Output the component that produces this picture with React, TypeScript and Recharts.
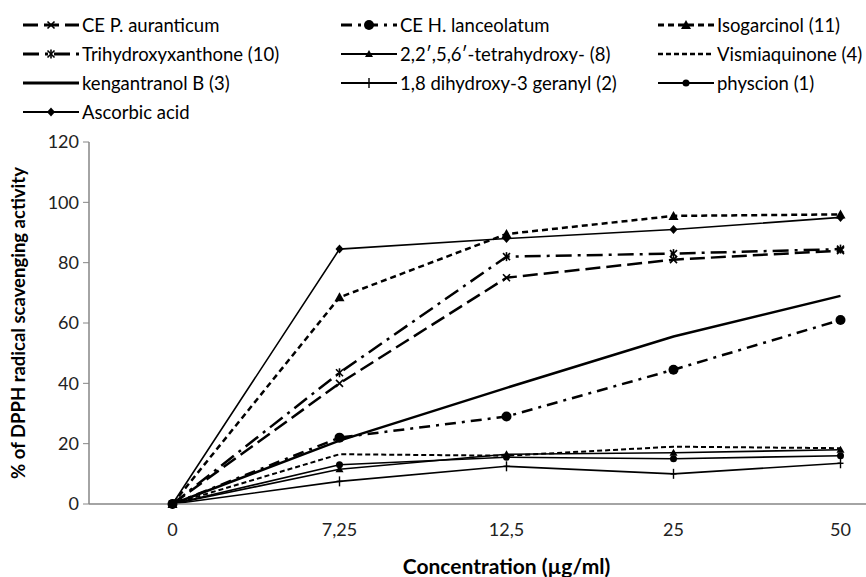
import React from "react";
import { LineChart, Line, XAxis, YAxis } from "recharts";

const categories = ["0", "7,25", "12,5", "25", "50"];

const cePAuranticum = [0, 40, 75, 81, 84];
const ceHLanceolatum = [0, 22, 29, 44.5, 61];
const isogarcinol = [0, 68.5, 89.5, 95.5, 96];
const trihydroxyxanthone = [0, 43.5, 82, 83, 84.5];
const tetrahydroxy = [0, 11.5, 16.5, 17, 18];
const vismiaquinone = [0, 16.5, 16, 19, 18.5];
const kengantranol = [0, 21, 38.5, 55.5, 69];
const dihydroxyGeranyl = [0, 7.5, 12.5, 10, 13.5];
const physcion = [0, 13, 15.5, 15, 16];
const ascorbicAcid = [0, 84.5, 88, 91, 95];

const yTicks = [0, 20, 40, 60, 80, 100, 120];

const FONT = "Lato, 'Open Sans', sans-serif";
const AXIS = "#868686";

type Shape = "none" | "x" | "star" | "circle" | "bigcircle" | "triangle" | "smalltri" | "diamond" | "plus";

const series: {
  key: string;
  name: string;
  values: number[];
  dash?: string;
  width: number;
  shape: Shape;
}[] = [
  { key: "cep", name: "CE P. auranticum", values: cePAuranticum, dash: "15 6", width: 2.5, shape: "x" },
  { key: "ceh", name: "CE H. lanceolatum", values: ceHLanceolatum, dash: "11 6 3 6", width: 2.5, shape: "bigcircle" },
  { key: "iso", name: "Isogarcinol (11)", values: isogarcinol, dash: "6 4", width: 2.5, shape: "triangle" },
  { key: "tri", name: "Trihydroxyxanthone (10)", values: trihydroxyxanthone, dash: "16 6 3 6", width: 2.5, shape: "star" },
  { key: "tet", name: "2,2\u2032,5,6\u2032-tetrahydroxy- (8)", values: tetrahydroxy, width: 1.6, shape: "smalltri" },
  { key: "vis", name: "Vismiaquinone (4)", values: vismiaquinone, dash: "5 3", width: 2, shape: "none" },
  { key: "ken", name: "kengantranol B (3)", values: kengantranol, width: 2.5, shape: "none" },
  { key: "dih", name: "1,8 dihydroxy-3 geranyl (2)", values: dihydroxyGeranyl, width: 1.6, shape: "plus" },
  { key: "phy", name: "physcion (1)", values: physcion, width: 1.6, shape: "circle" },
  { key: "asc", name: "Ascorbic acid", values: ascorbicAcid, width: 1.6, shape: "diamond" },
];

const data = categories.map((label, i) => {
  const row: Record<string, number | string> = { x: i, label };
  series.forEach((s) => (row[s.key] = s.values[i]));
  return row;
});

function drawMarker(shape: Shape, cx: number, cy: number, key?: string) {
  switch (shape) {
    case "x":
      return (
        <g key={key} stroke="#000" strokeWidth={1.6}>
          <line x1={cx - 3.5} y1={cy - 3.5} x2={cx + 3.5} y2={cy + 3.5} />
          <line x1={cx - 3.5} y1={cy + 3.5} x2={cx + 3.5} y2={cy - 3.5} />
        </g>
      );
    case "star":
      return (
        <g key={key} stroke="#000" strokeWidth={1.6}>
          <line x1={cx - 3.5} y1={cy - 3.5} x2={cx + 3.5} y2={cy + 3.5} />
          <line x1={cx - 3.5} y1={cy + 3.5} x2={cx + 3.5} y2={cy - 3.5} />
          <line x1={cx} y1={cy - 4.5} x2={cx} y2={cy + 4.5} />
        </g>
      );
    case "circle":
      return <circle key={key} cx={cx} cy={cy} r={3.5} fill="#000" />;
    case "bigcircle":
      return <circle key={key} cx={cx} cy={cy} r={5} fill="#000" />;
    case "triangle":
      return (
        <polygon key={key} points={`${cx},${cy - 5} ${cx + 5},${cy + 4} ${cx - 5},${cy + 4}`} fill="#000" />
      );
    case "smalltri":
      return (
        <polygon key={key} points={`${cx},${cy - 4} ${cx + 4},${cy + 3} ${cx - 4},${cy + 3}`} fill="#000" />
      );
    case "diamond":
      return (
        <polygon key={key} points={`${cx},${cy - 4.5} ${cx + 4},${cy} ${cx},${cy + 4.5} ${cx - 4},${cy}`} fill="#000" />
      );
    case "plus":
      return (
        <g key={key} stroke="#000" strokeWidth={1.4}>
          <line x1={cx} y1={cy - 5} x2={cx} y2={cy + 5} />
          <line x1={cx - 3} y1={cy} x2={cx + 3} y2={cy} />
        </g>
      );
    default:
      return <g key={key} />;
  }
}

const makeDot = (shape: Shape) => (props: any) => {
  const { cx, cy, index } = props;
  if (cx == null || cy == null) return <g key={`n-${index}`} />;
  return drawMarker(shape, cx, cy, `${shape}-${index}`);
};

const YTitle = (props: any) => {
  const { viewBox } = props;
  const x = viewBox.x + 18;
  const y = viewBox.y + viewBox.height / 2;
  return (
    <text
      x={x}
      y={y}
      transform={`rotate(-90 ${x} ${y})`}
      textAnchor="middle"
      dominantBaseline="central"
      fontFamily={FONT}
      fontWeight="bold"
      fontSize={18.5}
      fill="#000"
    >
      % of DPPH radical scavenging activity
    </text>
  );
};

const XTitle = (props: any) => {
  const { viewBox } = props;
  return (
    <text
      x={viewBox.x + viewBox.width / 2}
      y={viewBox.y + 61}
      textAnchor="middle"
      dominantBaseline="central"
      fontFamily={FONT}
      fontWeight="bold"
      fontSize={21}
      fill="#000"
    >
      Concentration (µg/ml)
    </text>
  );
};

const legendCols = [23, 341, 658];
const legendRows = [25, 54, 83, 112];

const ChartLegend = () => (
  <>
    {series.map((s, i) => {
      const left = legendCols[i % 3];
      const top = legendRows[Math.floor(i / 3)];
      return (
        <div
          key={s.key}
          style={{
            position: "absolute",
            left,
            top: top - 11,
            height: 22,
            display: "flex",
            alignItems: "center",
            fontFamily: FONT,
            fontSize: 18.5,
            color: "#000",
            whiteSpace: "nowrap",
          }}
        >
          <svg width={56} height={22} style={{ marginRight: 3 }}>
            <line
              x1={0}
              y1={11}
              x2={56}
              y2={11}
              stroke="#000"
              strokeWidth={s.width + 0.5}
              strokeDasharray={s.dash}
            />
            {drawMarker(s.shape, 28, 11)}
          </svg>
          {s.name}
        </div>
      );
    })}
  </>
);

export default function App() {
  return (
    <div
      style={{
        position: "absolute",
        left: 0,
        top: 0,
        width: 866,
        height: 577,
        overflow: "hidden",
        background: "#fff",
      }}
    >
      <ChartLegend />
      <LineChart
        width={930}
        height={577}
        data={data}
        margin={{ top: 142, right: 6, bottom: 0, left: 0 }}
      >
        <XAxis
          xAxisId={0}
          dataKey="x"
          type="number"
          domain={[-0.5, 4.5]}
          allowDataOverflow
          ticks={[-0.5, 0.5, 1.5, 2.5, 3.5, 4.5]}
          tickFormatter={() => ""}
          tickLine={{ stroke: AXIS }}
          tickSize={6}
          axisLine={false}
          height={0}
        />
        <XAxis
          xAxisId="lab"
          dataKey="x"
          type="number"
          domain={[-0.5, 4.5]}
          allowDataOverflow
          ticks={[0, 1, 2, 3, 4]}
          tickFormatter={(v: number) => categories[v]}
          tickLine={false}
          tickSize={6}
          tickMargin={13}
          axisLine={{ stroke: AXIS, strokeWidth: 1.5 }}
          tick={{ fontFamily: FONT, fontSize: 18, fill: "#222" }}
          height={73}
          label={<XTitle />}
        />
        <YAxis
          domain={[0, 120]}
          ticks={yTicks}
          width={89}
          tickSize={6}
          tickMargin={4}
          tickLine={{ stroke: AXIS }}
          axisLine={{ stroke: AXIS, strokeWidth: 1.5 }}
          tick={{ fontFamily: FONT, fontSize: 18, fill: "#222" }}
          label={<YTitle />}
        />
        {series.map((s) => (
          <Line
            key={s.key}
            dataKey={s.key}
            name={s.name}
            type="linear"
            stroke="#000"
            strokeWidth={s.width}
            strokeDasharray={s.dash}
            dot={s.shape === "none" ? false : makeDot(s.shape)}
            activeDot={false}
            isAnimationActive={false}
          />
        ))}
      </LineChart>
    </div>
  );
}
